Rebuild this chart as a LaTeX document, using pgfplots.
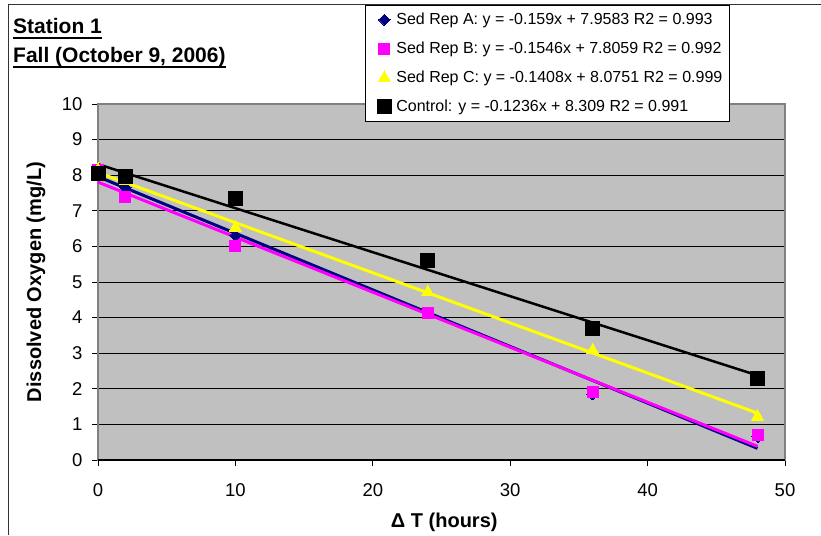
\documentclass[border=0pt]{standalone}
\usepackage{fontspec}
\setmainfont{Liberation Sans}
\usepackage{pgfplots}
\pgfplotsset{compat=1.18}
\definecolor{navyA}{HTML}{000080}
\definecolor{magB}{HTML}{FF00FF}
\definecolor{yelC}{HTML}{FFFF00}
\definecolor{plotbg}{HTML}{C0C0C0}
\definecolor{frame}{HTML}{808080}
\begin{document}
\begin{tikzpicture}
\useasboundingbox (0,0) rectangle (821pt,535pt);
\draw[black!80, line width=1pt] (8pt,0pt) -- (8pt,530pt) -- (821pt,530pt);
\begin{axis}[
  at={(98pt,75pt)}, anchor=south west,
  scale only axis, width=687pt, height=356pt,
  xmin=0, xmax=50, ymin=0, ymax=10,
  xtick={0,10,...,50}, ytick={0,1,...,10},
  tick pos=left, tick align=outside, major tick length=6pt,
  tick style={black, line width=0.8pt},
  axis background/.style={fill=plotbg},
  axis line style={frame, line width=1.2pt},
  ymajorgrids, grid style={black, line width=0.9pt},
  ticklabel style={font=\fontsize{18.5}{20}\selectfont},
  /pgf/number format/assume math mode=true,
  xticklabel style={yshift=-14pt},
  yticklabel style={xshift=-6pt},
  xlabel={Δ T (hours)},
  ylabel={Dissolved Oxygen (mg/L)},
  label style={font=\fontsize{20}{22}\selectfont\bfseries},
  xlabel style={at={(axis description cs:0.504,-0.176)}, anchor=center},
  ylabel style={at={(axis description cs:-0.0902,0.5)}, anchor=center, rotate=0},
  clip=false,
  legend style={at={(axis description cs:0.3886,1.278)}, anchor=north west,
    draw=black, line width=0.8pt, fill=white, inner xsep=7pt, inner ysep=7pt,
    column sep=5pt, row sep=14pt,
    font=\fontsize{16}{18}\selectfont,
    nodes={inner sep=0pt, text height=12pt, text depth=3pt}},
  legend cell align=left,
  legend image code/.code={\path[draw=none,fill=none] (-12pt,0pt) -- (6pt,0pt); \draw[#1] plot coordinates {(0pt,0pt)};},
]
\addplot[only marks, mark=square*, mark size=4pt, draw=navyA, fill=navyA, mark options={line width=0pt, rotate=45}]
  coordinates {(0,8.10) (2,7.65) (10,6.30) (24,4.12) (36,1.85) (48,0.65)};
\addlegendentry{Sed Rep A: y = -0.159x + 7.9583 R2 = 0.993}
\addplot[only marks, mark=square*, mark size=5.5pt, draw=magB, fill=magB, mark options={line width=0pt}]
  coordinates {(0,8.15) (2,7.40) (10,6.02) (24,4.13) (36,1.92) (48,0.70)};
\addlegendentry{Sed Rep B: y = -0.1546x + 7.8059 R2 = 0.992}
\addplot[only marks, mark=triangle*, mark size=7pt, draw=yelC, fill=yelC, mark options={line width=0pt}]
  coordinates {(0,8.15) (2,7.85) (10,6.53) (24,4.72) (36,3.08) (48,1.22)};
\addlegendentry{Sed Rep C: y = -0.1408x + 8.0751 R2 = 0.999}
\addplot[only marks, mark=square*, mark size=7pt, draw=black, fill=black, mark options={line width=0pt}]
  coordinates {(0,8.05) (2,7.97) (10,7.35) (24,5.60) (36,3.68) (48,2.28)};
\addlegendentry{Control: y = -0.1236x + 8.309 R2 = 0.991}
\addplot[forget plot, navyA, line width=3pt] coordinates {(0,7.9583) (48,0.3263)};
\addplot[forget plot, magB, line width=3pt] coordinates {(0,7.8059) (48,0.3851)};
\addplot[forget plot, yelC, line width=3pt] coordinates {(0,8.0751) (48,1.3167)};
\addplot[forget plot, black, line width=2.5pt] coordinates {(0,8.309) (48,2.3762)};
\draw[black, line width=1.2pt] (axis cs:0,0) -- (axis cs:50,0);
\end{axis}
\node[anchor=base west, inner sep=0pt, font=\fontsize{21}{24}\selectfont\bfseries] (t1) at (13pt,501pt) {Station 1};
\node[anchor=base west, inner sep=0pt, font=\fontsize{21}{24}\selectfont\bfseries] (t2) at (13pt,472pt) {Fall (October 9, 2006)};
\draw[line width=2.5pt] ([yshift=-4pt]t1.base west) -- ([yshift=-4pt]t1.base east);
\draw[line width=2.5pt] ([yshift=-4pt]t2.base west) -- ([yshift=-4pt]t2.base east);
\end{tikzpicture}
\end{document}
